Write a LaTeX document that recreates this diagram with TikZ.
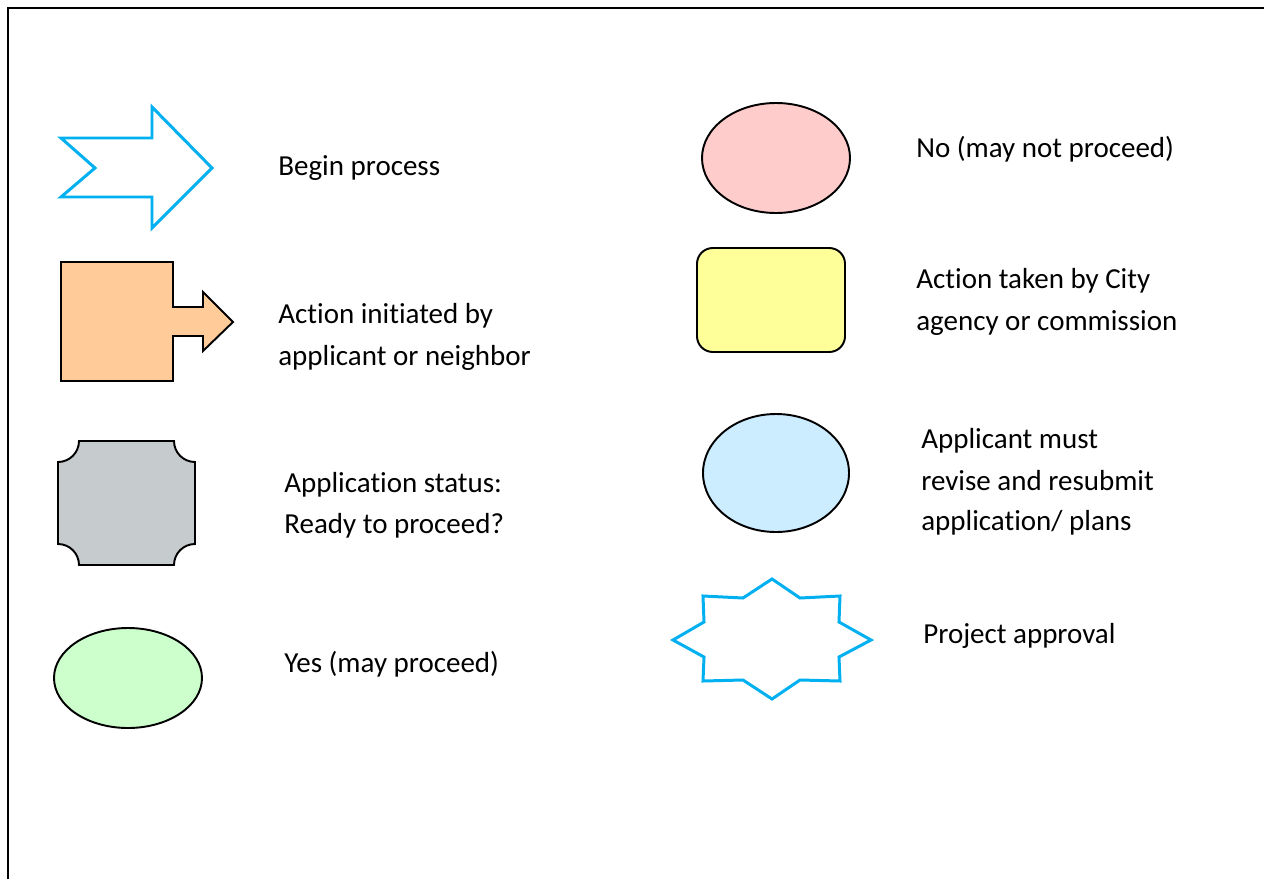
\documentclass[tikz,border=0pt]{standalone}
\usepackage{fontspec}
\setmainfont[Ligatures=NoCommon]{Carlito}
\usepackage{tikz}
\usetikzlibrary{positioning}
\definecolor{startblue}{HTML}{00B0F0}
\definecolor{applorange}{HTML}{FFCC99}
\definecolor{statusgray}{HTML}{C6CBCE}
\definecolor{yesgreen}{HTML}{CCFFCC}
\definecolor{nopink}{HTML}{FFCCCC}
\definecolor{cityyellow}{HTML}{FFFF99}
\definecolor{revblue}{HTML}{CCECFF}

\begin{document}
\begin{tikzpicture}[x=0.02cm, y=-0.02cm]
            \tikzstyle{every node}=[font=\fontsize{16.5}{24}\selectfont, anchor=base west, inner sep=0pt]
            \tikzstyle{blueline}=[draw=startblue, line width=1.7pt, line join=miter]
            \tikzstyle{blackline}=[draw=black, line width=1.1pt]
            \useasboundingbox (0,0) rectangle (1264,879);
            \fill [white] (0,0) rectangle (1264,879);
            \draw [line width=1.2pt] (8,879) -- (8,8) -- (1264,8);
            % left column
            \draw [blueline] (61,138) -- (95,168) -- (61,197) -- (152,197) -- (152,228) -- (212,168) -- (152,107) -- (152,138) -- cycle;
            \draw [blackline, fill=applorange] (61,262) -- (173,262) -- (173,307) -- (203,307) -- (203,292) -- (233,322) -- (203,351) -- (203,336) -- (173,336) -- (173,381) -- (61,381) -- cycle;
            \draw [blackline, fill=statusgray] (79,441) -- (174,441) arc[start angle=180, end angle=90, radius=21] -- (195,544) arc[start angle=270, end angle=180, radius=21] -- (79,565) arc[start angle=0, end angle=-90, radius=21] -- (58,462) arc[start angle=90, end angle=0, radius=21] -- cycle;
            \draw [blackline, fill=yesgreen] (128,678) ellipse [x radius=74, y radius=50];
            \node (begin) at (278,175) {Begin process};
            \node (initiated) at (278,323) {Action initiated by};
            \node (neighbor) at (278,365) {applicant or neighbor};
            \node (status) at (284,492) {Application status:};
            \node (ready) at (284,533) {Ready to proceed?};
            \node (yes) at (284,672) {Yes (may proceed)};
            % right column
            \draw [blackline, fill=nopink] (776,158) ellipse [x radius=74, y radius=55];
            \draw [blackline, fill=cityyellow, rounded corners=9pt] (697,248) rectangle (845,352);
            \draw [blackline, fill=revblue] (776,473) ellipse [x radius=73, y radius=59];
            \draw [blueline] (772,579) -- (800,598) -- (840,596) -- (839,622) -- (871,640) -- (839,657) -- (840,681) -- (800,680) -- (772,699) -- (743,680) -- (703,681) -- (704,657) -- (673,640) -- (704,622) -- (703,596) -- (743,598) -- cycle;
            \node (no) at (916,157) {No (may not proceed)};
            \node (city) at (916,288) {Action taken by City};
            \node (agency) at (916,330) {agency or commission};
            \node (revise1) at (921,448) {Applicant must};
            \node (revise2) at (921,490) {revise and resubmit};
            \node (revise3) at (921,530) {application/ plans};
            \node (approval) at (923,643) {Project approval};
        \end{tikzpicture}
\end{document}
